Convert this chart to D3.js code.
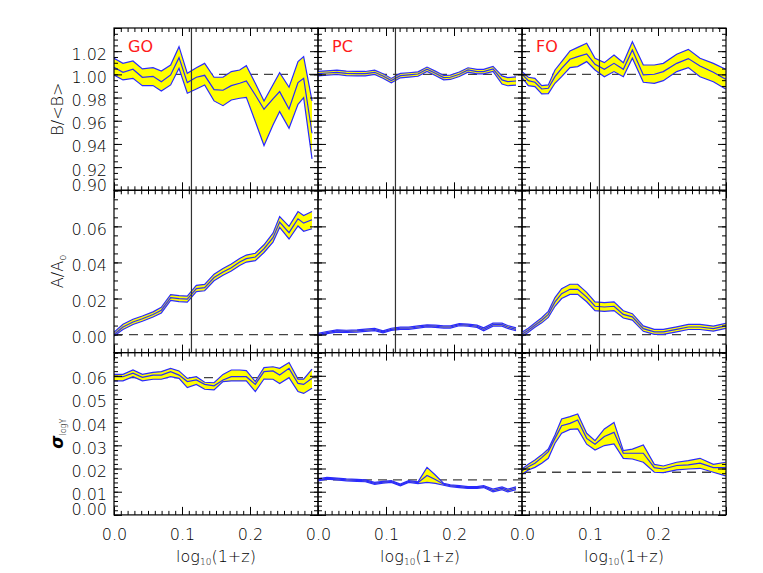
<!DOCTYPE html>
<html>
<head>
<meta charset="utf-8">
<script src="https://cdn.jsdelivr.net/npm/d3@7"></script>
<style>
body { margin: 0; background: #fff; }
text { font-family: "DejaVu Sans", sans-serif; font-weight: 300; }
</style>
</head>
<body>
<script>
// log10(1+z) grid of the bins (GO and PC share one, FO has its own)
var xGrid = [0, 0.0132, 0.0279, 0.0417, 0.0574, 0.0696, 0.0833, 0.0956, 0.1078, 0.1211, 0.1333, 0.1471,
             0.1603, 0.1725, 0.1848, 0.1946, 0.2078, 0.2206, 0.2338, 0.2436, 0.2574, 0.2706, 0.2789, 0.2912];
var xGridFO = [0, 0.0093, 0.0190, 0.0290, 0.0387, 0.0485, 0.0583, 0.0706, 0.0819, 0.0951, 0.1074, 0.1211,
               0.1353, 0.1490, 0.1623, 0.1784, 0.1946, 0.2078, 0.2275, 0.2446, 0.2618, 0.2814, 0.2995];

// B/<B>
var goB   = [1.0061, 1.0018, 1.0044, 0.9975, 0.9983, 0.9937, 0.9995, 1.0144, 0.9929, 0.9975, 0.9992, 0.9868,
             0.9863, 0.9903, 0.9923, 0.9943, 0.9822, 0.9699, 0.9788, 0.9851, 0.9702, 0.9929, 0.9966, 0.9492];
var goBHi = [1.0139, 1.0095, 1.0116, 1.0047, 1.0058, 1.0029, 1.0081, 1.0239, 1.0009, 1.0058, 1.0095, 0.9975,
             0.9975, 1.0024, 1.0038, 1.0075, 0.9923, 0.9771, 0.9911, 1.0015, 0.9889, 1.0110, 1.0153, 0.9771];
var goBLo = [0.9995, 0.9952, 0.9966, 0.9903, 0.9903, 0.9857, 0.9909, 1.0052, 0.9837, 0.9874, 0.9909, 0.9771,
             0.9730, 0.9779, 0.9794, 0.9802, 0.9593, 0.9386, 0.9564, 0.9679, 0.9535, 0.9742, 0.9799, 0.9271];
var pcB   = [1.0006, 1.0012, 1.0018, 1.0009, 1.0006, 1.0006, 1.0018, 0.9986, 0.9946, 0.9989, 0.9995, 1.0003,
             1.0044, 1.0009, 0.9972, 0.9975, 1.0001, 1.0038, 1.0024, 1.0024, 1.0047, 0.9952, 0.9937, 0.9943];
var pcBHi = [1.0025, 1.0031, 1.0037, 1.0028, 1.0025, 1.0025, 1.0037, 1.0005, 0.9965, 1.0008, 1.0014, 1.0022,
             1.0063, 1.0028, 0.9991, 0.9994, 1.0020, 1.0057, 1.0043, 1.0043, 1.0069, 0.9987, 0.9972, 0.9978];
var pcBLo = [0.9987, 0.9993, 0.9999, 0.9990, 0.9987, 0.9987, 0.9999, 0.9967, 0.9927, 0.9970, 0.9976, 0.9984,
             1.0025, 0.9990, 0.9953, 0.9956, 0.9982, 1.0019, 1.0005, 1.0005, 1.0025, 0.9917, 0.9902, 0.9908];
var foB   = [1.0001, 0.9946, 0.9932, 0.9874, 0.9880, 0.9980, 1.0052, 1.0130, 1.0153, 1.0176, 1.0087, 1.0044,
             1.0095, 1.0044, 1.0210, 0.9995, 1.0001, 1.0024, 1.0095, 1.0136, 1.0072, 1.0018, 0.9958];
var foBHi = [1.0024, 0.9975, 0.9966, 0.9903, 0.9909, 1.0038, 1.0110, 1.0202, 1.0233, 1.0268, 1.0139, 1.0101,
             1.0167, 1.0101, 1.0282, 1.0081, 1.0081, 1.0095, 1.0173, 1.0216, 1.0139, 1.0095, 1.0044];
var foBLo = [0.9972, 0.9903, 0.9894, 0.9831, 0.9834, 0.9923, 0.9980, 1.0058, 1.0067, 1.0110, 1.0038, 0.9980,
             1.0024, 0.9980, 1.0139, 0.9932, 0.9923, 0.9946, 1.0024, 1.0058, 0.9980, 0.9937, 0.9874];

// A/A0
var goA   = [0.0000, 0.0042, 0.0070, 0.0088, 0.0111, 0.0135, 0.0205, 0.0199, 0.0196, 0.0255, 0.0260, 0.0316,
             0.0347, 0.0371, 0.0402, 0.0421, 0.0430, 0.0476, 0.0537, 0.0624, 0.0565, 0.0642, 0.0618, 0.0637];
var goAHi = [0.0013, 0.0057, 0.0085, 0.0103, 0.0126, 0.0151, 0.0222, 0.0216, 0.0213, 0.0273, 0.0278, 0.0335,
             0.0366, 0.0391, 0.0422, 0.0441, 0.0451, 0.0498, 0.0562, 0.0654, 0.0600, 0.0682, 0.0660, 0.0682];
var goALo = [-0.0008, 0.0028, 0.0056, 0.0074, 0.0097, 0.0120, 0.0189, 0.0183, 0.0180, 0.0238, 0.0243, 0.0298,
             0.0329, 0.0352, 0.0383, 0.0402, 0.0410, 0.0455, 0.0513, 0.0594, 0.0530, 0.0602, 0.0573, 0.0587];
var pcA   = [0.0000, 0.0011, 0.0020, 0.0018, 0.0020, 0.0024, 0.0028, 0.0015, 0.0029, 0.0035, 0.0035, 0.0042,
             0.0048, 0.0046, 0.0042, 0.0042, 0.0055, 0.0052, 0.0046, 0.0029, 0.0055, 0.0055, 0.0042, 0.0029];
var pcAHi = [0.0006, 0.0017, 0.0026, 0.0024, 0.0026, 0.0030, 0.0034, 0.0021, 0.0035, 0.0041, 0.0041, 0.0048,
             0.0054, 0.0052, 0.0048, 0.0048, 0.0061, 0.0058, 0.0052, 0.0037, 0.0063, 0.0063, 0.0050, 0.0037];
var pcALo = [-0.0006, 0.0005, 0.0014, 0.0012, 0.0014, 0.0018, 0.0022, 0.0009, 0.0023, 0.0029, 0.0029, 0.0036,
             0.0042, 0.0040, 0.0036, 0.0036, 0.0049, 0.0046, 0.0040, 0.0021, 0.0047, 0.0047, 0.0034, 0.0021];
var foA   = [0.0002, 0.0024, 0.0052, 0.0079, 0.0112, 0.0181, 0.0227, 0.0251, 0.0251, 0.0208, 0.0157, 0.0153,
             0.0157, 0.0112, 0.0098, 0.0033, 0.0015, 0.0015, 0.0029, 0.0042, 0.0042, 0.0033, 0.0048];
var foAHi = [0.0013, 0.0035, 0.0064, 0.0093, 0.0129, 0.0205, 0.0254, 0.0279, 0.0279, 0.0234, 0.0181, 0.0177,
             0.0181, 0.0132, 0.0116, 0.0048, 0.0029, 0.0029, 0.0043, 0.0056, 0.0056, 0.0047, 0.0062];
var foALo = [-0.0009, 0.0013, 0.0040, 0.0065, 0.0095, 0.0157, 0.0200, 0.0223, 0.0223, 0.0182, 0.0133, 0.0129,
             0.0133, 0.0092, 0.0080, 0.0018, 0.0001, 0.0001, 0.0015, 0.0028, 0.0028, 0.0019, 0.0034];

// sigma_logY
var goS   = [0.0596, 0.0596, 0.0611, 0.0593, 0.0603, 0.0603, 0.0618, 0.0603, 0.0575, 0.0582, 0.0563, 0.0557,
             0.0582, 0.0596, 0.0596, 0.0596, 0.0563, 0.0618, 0.0621, 0.0603, 0.0632, 0.0567, 0.0563, 0.0589];
var goSHi = [0.0606, 0.0606, 0.0625, 0.0606, 0.0615, 0.0618, 0.0632, 0.0621, 0.0589, 0.0596, 0.0572, 0.0570,
             0.0606, 0.0625, 0.0625, 0.0622, 0.0575, 0.0635, 0.0639, 0.0632, 0.0657, 0.0586, 0.0586, 0.0629];
var goSLo = [0.0578, 0.0578, 0.0596, 0.0578, 0.0585, 0.0585, 0.0596, 0.0589, 0.0549, 0.0563, 0.0542, 0.0539,
             0.0575, 0.0578, 0.0578, 0.0578, 0.0532, 0.0586, 0.0585, 0.0567, 0.0592, 0.0532, 0.0524, 0.0546];
var pcS   = [0.0151, 0.0158, 0.0155, 0.0151, 0.0149, 0.0147, 0.0136, 0.0141, 0.0144, 0.0129, 0.0144, 0.0139,
             0.0170, 0.0153, 0.0132, 0.0126, 0.0122, 0.0118, 0.0118, 0.0122, 0.0105, 0.0115, 0.0105, 0.0115];
var pcSHi = [0.0155, 0.0162, 0.0159, 0.0155, 0.0153, 0.0151, 0.0140, 0.0145, 0.0148, 0.0133, 0.0148, 0.0143,
             0.0205, 0.0172, 0.0136, 0.0130, 0.0126, 0.0122, 0.0122, 0.0126, 0.0111, 0.0121, 0.0111, 0.0121];
var pcSLo = [0.0147, 0.0154, 0.0151, 0.0147, 0.0145, 0.0143, 0.0132, 0.0137, 0.0140, 0.0125, 0.0140, 0.0135,
             0.0140, 0.0136, 0.0128, 0.0122, 0.0118, 0.0114, 0.0114, 0.0118, 0.0099, 0.0109, 0.0099, 0.0109];
var foS   = [0.0190, 0.0208, 0.0223, 0.0247, 0.0273, 0.0330, 0.0385, 0.0395, 0.0409, 0.0330, 0.0305, 0.0338,
             0.0356, 0.0266, 0.0266, 0.0266, 0.0204, 0.0198, 0.0213, 0.0216, 0.0223, 0.0204, 0.0204];
var foSHi = [0.0198, 0.0218, 0.0237, 0.0259, 0.0284, 0.0345, 0.0414, 0.0424, 0.0435, 0.0352, 0.0320, 0.0371,
             0.0399, 0.0277, 0.0284, 0.0302, 0.0218, 0.0211, 0.0227, 0.0234, 0.0244, 0.0218, 0.0227];
var foSLo = [0.0175, 0.0194, 0.0205, 0.0223, 0.0244, 0.0309, 0.0352, 0.0369, 0.0371, 0.0305, 0.0280, 0.0299,
             0.0306, 0.0244, 0.0241, 0.0227, 0.0184, 0.0182, 0.0194, 0.0198, 0.0201, 0.0184, 0.0168];

// reference (dashed) levels and the z=0.3 marker
var refB = [1.0, 1.0, 1.0];
var refA = [0.0, 0.0, 0.0];
var refS = [0.0592, 0.0151, 0.0184];
var zMark = 0.1139;

var columns = ["GO", "PC", "FO"];
var xTicks = [0.0, 0.1, 0.2, 0.3];
var bTicks = [0.90, 0.92, 0.94, 0.96, 0.98, 1.00, 1.02, 1.04];
var aTicks = [0.00, 0.02, 0.04, 0.06, 0.08];
var sTicks = [0.00, 0.01, 0.02, 0.03, 0.04, 0.05, 0.06, 0.07];

var margin = { top: 28, left: 114 },
    panelW = 204,
    panelH = 162.3;
var blue = "#2a2aff";

var svg = d3.select("body")
    .append("svg")
    .attr("width", 763)
    .attr("height", 573);

var x = d3.scaleLinear().domain([0, 0.3]).range([0, panelW]);

var rows = [
    { domain: [0.90, 1.04], ticks: bTicks, minor: 0.005, vline: true,
      sets: [[xGrid, goB, goBHi, goBLo], [xGrid, pcB, pcBHi, pcBLo], [xGridFO, foB, foBHi, foBLo]], ref: refB },
    { domain: [-0.01, 0.08], ticks: aTicks, minor: 0.005, vline: true,
      sets: [[xGrid, goA, goAHi, goALo], [xGrid, pcA, pcAHi, pcALo], [xGridFO, foA, foAHi, foALo]], ref: refA },
    { domain: [0.0, 0.07], ticks: sTicks, minor: 0.002, vline: false,
      sets: [[xGrid, goS, goSHi, goSLo], [xGrid, pcS, pcSHi, pcSLo], [xGridFO, foS, foSHi, foSLo]], ref: refS }
];

var xMinor = d3.range(0, 0.3001, 0.01);

rows.forEach(function (row, r) {
    var y = d3.scaleLinear().domain(row.domain).range([panelH, 0]);
    var yMinor = d3.range(Math.ceil(row.domain[0] / row.minor - 1e-6) * row.minor, row.domain[1] + 1e-6, row.minor);

    columns.forEach(function (name, c) {
        var g = svg.append("g")
            .attr("transform", "translate(" + (margin.left + c * panelW) + "," + (margin.top + r * panelH) + ")");

        var clipId = "clip" + r + c;
        g.append("clipPath").attr("id", clipId)
            .append("rect").attr("width", panelW).attr("height", panelH);

        var set = row.sets[c];
        var pts = set[0].map(function (xv, i) {
            return { x: xv, m: set[1][i], hi: set[2][i], lo: set[3][i] };
        });

        var inner = g.append("g").attr("clip-path", "url(#" + clipId + ")");

        inner.append("line")
            .attr("x1", 0).attr("x2", panelW)
            .attr("y1", y(row.ref[c])).attr("y2", y(row.ref[c]))
            .attr("stroke", "#444")
            .attr("stroke-width", 1.3)
            .attr("stroke-dasharray", "9,6");

        inner.append("path")
            .datum(pts)
            .attr("fill", "#ffff00")
            .attr("d", d3.area()
                .x(function (d) { return x(d.x); })
                .y0(function (d) { return y(d.lo); })
                .y1(function (d) { return y(d.hi); }));

        ["hi", "m", "lo"].forEach(function (k) {
            inner.append("path")
                .datum(pts)
                .attr("fill", "none")
                .attr("stroke", blue)
                .attr("stroke-width", 1.2)
                .attr("d", d3.line()
                    .x(function (d) { return x(d.x); })
                    .y(function (d) { return y(d[k]); }));
        });

        if (row.vline) {
            g.append("line")
                .attr("x1", x(zMark)).attr("x2", x(zMark))
                .attr("y1", 0).attr("y2", panelH)
                .attr("stroke", "#333")
                .attr("stroke-width", 1.2);
        }

        // ticks on all four sides, pointing inward
        function tickAxis(axis, tx, ty) {
            var a = g.append("g")
                .attr("transform", "translate(" + tx + "," + ty + ")")
                .call(axis);
            a.select(".domain").remove();
            a.selectAll("line").attr("stroke", "#000");
            return a;
        }
        tickAxis(d3.axisLeft(y).tickValues(yMinor).tickSize(-4).tickFormat(""), 0, 0);
        tickAxis(d3.axisRight(y).tickValues(yMinor).tickSize(-4).tickFormat(""), panelW, 0);
        tickAxis(d3.axisRight(y).tickValues(row.ticks).tickSize(-8).tickFormat(""), panelW, 0);
        tickAxis(d3.axisTop(x).tickValues(xMinor).tickSize(-4).tickFormat(""), 0, 0);
        tickAxis(d3.axisBottom(x).tickValues(xMinor).tickSize(-4).tickFormat(""), 0, panelH);
        tickAxis(d3.axisTop(x).tickValues(xTicks).tickSize(-8).tickFormat(""), 0, 0);

        var ya = tickAxis(d3.axisLeft(y).tickValues(row.ticks).tickSize(-8).tickPadding(7)
            .tickFormat(c === 0 ? d3.format(".2f") : ""), 0, 0);
        ya.selectAll("text")
            .style("font-size", "16px")
            .attr("fill", "#000")
            .attr("dy", function (d, i) {
                return i === 0 && r !== 1 ? "0em" : "0.5em";
            })
            .filter(function (d, i) { return i === row.ticks.length - 1; })
            .remove();

        var xa = tickAxis(d3.axisBottom(x).tickValues(xTicks).tickSize(-8).tickPadding(14)
            .tickFormat(r === 2 ? d3.format(".1f") : ""), 0, panelH);
        xa.selectAll("text")
            .style("font-size", "16px")
            .attr("fill", "#000")
            .filter(function (d) { return d > 0.25; })
            .remove();

        g.append("rect")
            .attr("width", panelW).attr("height", panelH)
            .attr("fill", "none")
            .attr("stroke", "#000")
            .attr("stroke-width", 1.2);

        if (r === 0) {
            g.append("text")
                .attr("x", 14).attr("y", 24)
                .attr("fill", "#ff1a1a")
                .style("font-size", "16px")
                .style("font-weight", "normal")
                .text(name);
        }

        if (r === 2) {
            var t = g.append("text")
                .attr("x", panelW / 2).attr("y", panelH + 47)
                .attr("text-anchor", "middle")
                .style("font-size", "16px");
            t.append("tspan").text("log");
            t.append("tspan").attr("dy", 3).style("font-size", "9px").text("10");
            t.append("tspan").attr("dy", -3).text("(1+z)");
        }
    });
});

// y-axis titles
var t1 = svg.append("text")
    .attr("transform", "translate(63," + (margin.top + panelH / 2) + ") rotate(-90)")
    .attr("text-anchor", "middle")
    .style("font-size", "16px")
    .text("B/<B>");

var t2 = svg.append("text")
    .attr("transform", "translate(63," + (margin.top + panelH * 1.5) + ") rotate(-90)")
    .attr("text-anchor", "middle")
    .style("font-size", "16px");
t2.append("tspan").text("A/A");
t2.append("tspan").attr("dy", 3).style("font-size", "10px").text("o");

var t3 = svg.append("text")
    .attr("transform", "translate(63," + (margin.top + panelH * 2.5) + ") rotate(-90)")
    .attr("text-anchor", "middle")
    .style("font-size", "17px");
t3.append("tspan").style("font-style", "italic").style("font-weight", "bold").text("σ");
t3.append("tspan").attr("dy", 3).style("font-size", "8px").text("logY");
</script>
</body>
</html>
